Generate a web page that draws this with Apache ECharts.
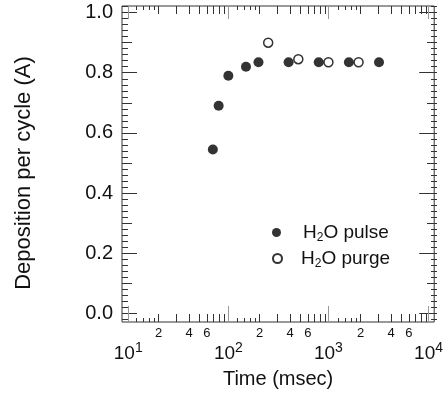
<!DOCTYPE html>
<html>
<head>
<meta charset="utf-8">
<style>
  html, body { margin: 0; padding: 0; background: #fff; }
  #main { width: 446px; height: 399px; }
</style>
<script src="https://cdn.jsdelivr.net/npm/echarts@6/dist/echarts.min.js"></script>
</head>
<body>
<div id="main"></div>
<script type="text/javascript">
// data
var pulseTime = [70, 80, 100, 150, 200, 400, 800, 1600, 3200];
var pulseDep  = [0.545, 0.69, 0.79, 0.82, 0.835, 0.835, 0.835, 0.835, 0.835];
var purgeTime = [250, 500, 1000, 2000];
var purgeDep  = [0.90, 0.845, 0.835, 0.835];

// axis ranges and ticks
var xMin = 8.66, xMax = 11390;
var yMin = -0.029, yMax = 1.022;
var xDecades = [10, 100, 1000];
var xMajorTicks = [10, 100, 1000, 10000];
var xMidMantissa = [2, 3, 4, 5, 6, 7, 8, 9];
var xShortMantissa = [1.2, 1.4, 1.6, 1.8];
var xMinorLabels = [20, 40, 60, 200, 400, 600, 2000, 4000, 6000];
var yMajorTicks = [0, 0.2, 0.4, 0.6, 0.8, 1.0];
var yMidTicks = [0.1, 0.3, 0.5, 0.7, 0.9];

var FONT = 'Liberation Sans, Arial, Helvetica, sans-serif';

function decadeTicks(mant) {
  var out = [];
  xDecades.forEach(function (d) {
    mant.forEach(function (m) { out.push(+(d * m).toPrecision(6)); });
  });
  return out;
}
var yMinorTicks = [];
for (var k = -1; k <= 51; k++) yMinorTicks.push(+(k * 0.02).toFixed(2));

// three stacked grids at the same place: one per tick length
var gridBox = { left: 122, right: 9, top: 6, bottom: 77 };
var grids = [0, 1, 2].map(function (i) {
  return {
    left: gridBox.left, right: gridBox.right, top: gridBox.top, bottom: gridBox.bottom,
    show: i === 0, borderColor: '#333', borderWidth: 1, backgroundColor: 'transparent'
  };
});

function xAx(g, pos, ticks, len, color) {
  return {
    type: 'log', gridIndex: g, position: pos, min: xMin, max: xMax,
    axisLine: { show: false, onZero: false }, splitLine: { show: false },
    axisTick: { show: true, inside: true, length: len, customValues: ticks, lineStyle: { color: color, width: 1 } },
    axisLabel: { show: false }
  };
}
function yAx(g, pos, ticks, len) {
  return {
    type: 'value', gridIndex: g, position: pos, min: yMin, max: yMax,
    axisLine: { show: false, onZero: false }, splitLine: { show: false },
    axisTick: { show: true, inside: true, length: len, customValues: ticks, lineStyle: { color: '#333', width: 1 } },
    axisLabel: { show: false }
  };
}

var xAxes = [
  xAx(0, 'bottom', xMajorTicks, 16, '#999'),
  xAx(0, 'top', xMajorTicks, 13, '#999'),
  xAx(1, 'bottom', decadeTicks(xMidMantissa), 8, '#333'),
  xAx(1, 'top', decadeTicks(xMidMantissa), 8, '#333'),
  xAx(2, 'bottom', decadeTicks(xShortMantissa), 4, '#333'),
  xAx(2, 'top', decadeTicks(xShortMantissa), 4, '#333')
];
// major labels 10^n
xAxes[0].axisLabel = {
  show: true, customValues: xMajorTicks, margin: 19,
  formatter: function (v) {
    return '{b|10}{s|' + Math.round(Math.log10(v)) + '}';
  },
  rich: {
    b: { fontFamily: FONT, fontSize: 19, lineHeight: 26, color: '#111' },
    s: { fontFamily: FONT, fontSize: 14, lineHeight: 14, verticalAlign: 'top', color: '#111' }
  }
};
xAxes[0].name = 'Time (msec)';
xAxes[0].nameLocation = 'middle';
xAxes[0].nameGap = 47;
xAxes[0].nameTextStyle = { fontFamily: FONT, fontSize: 20, color: '#111' };
// small mantissa labels 2 4 6
xAxes[2].axisLabel = {
  show: true, customValues: xMinorLabels, margin: 5,
  fontFamily: FONT, fontSize: 13, color: '#111',
  formatter: function (v) { return String(Math.round(v / Math.pow(10, Math.floor(Math.log10(v) + 1e-9)))); }
};

var yAxes = [
  yAx(0, 'left', yMajorTicks, 15),
  yAx(0, 'right', yMajorTicks, 15),
  yAx(1, 'left', yMidTicks, 10),
  yAx(1, 'right', yMidTicks, 10),
  yAx(2, 'left', yMinorTicks, 6),
  yAx(2, 'right', yMinorTicks, 6)
];
yAxes[0].axisLabel = {
  show: true, customValues: yMajorTicks, margin: 9,
  fontFamily: FONT, fontSize: 20, color: '#111',
  formatter: function (v) { return v.toFixed(1); }
};
yAxes[0].name = 'Deposition per cycle (A)';
yAxes[0].nameLocation = 'middle';
yAxes[0].nameGap = 87;
yAxes[0].nameTextStyle = { fontFamily: FONT, fontSize: 22, color: '#111', padding: [0, 18, 0, 0] };

var legendRich = {
  t: { fontFamily: FONT, fontSize: 19, lineHeight: 22, color: '#111' },
  sub: { fontFamily: FONT, fontSize: 12, lineHeight: 12, verticalAlign: 'bottom', color: '#111' }
};
function legendFmt(name) {
  return '{t|H}{sub|2}{t|' + name.slice(2) + '}';
}

var myChart = echarts.init(document.getElementById('main'), null, { renderer: 'canvas' });
var option = {
  animation: false,
  backgroundColor: '#fff',
  grid: grids,
  xAxis: xAxes,
  yAxis: yAxes,
  legend: [
    { data: ['H2O pulse'], orient: 'vertical', left: 272, top: 223, padding: 0, itemWidth: 9, itemHeight: 9,
      formatter: legendFmt, textStyle: { rich: legendRich, padding: [0, 0, 0, 17] } },
    { data: ['H2O purge'], orient: 'vertical', left: 272, top: 249, padding: 0, itemWidth: 9, itemHeight: 9,
      formatter: legendFmt, textStyle: { rich: legendRich, padding: [0, 0, 0, 14] } }
  ],
  series: [
    {
      name: 'H2O pulse', type: 'scatter', xAxisIndex: 0, yAxisIndex: 0,
      symbol: 'circle', symbolSize: 10,
      itemStyle: { color: '#000' },
      data: pulseTime.map(function (t, i) { return [t, pulseDep[i]]; })
    },
    {
      name: 'H2O purge', type: 'scatter', xAxisIndex: 0, yAxisIndex: 0,
      symbol: 'circle', symbolSize: 9,
      itemStyle: { color: '#fff', borderColor: '#000', borderWidth: 1.5 },
      data: purgeTime.map(function (t, i) { return [t, purgeDep[i]]; })
    }
  ]
};
myChart.setOption(option);
</script>
</body>
</html>
